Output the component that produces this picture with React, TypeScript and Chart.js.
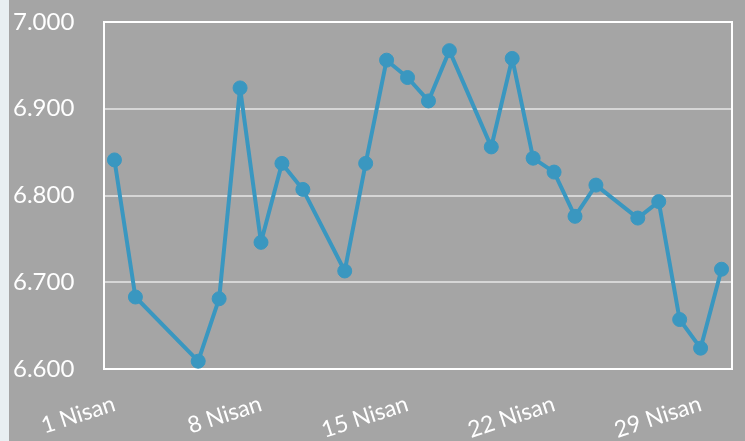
import React, { useEffect, useRef } from "react";
import { Chart, registerables } from "chart.js";

Chart.register(...registerables);

const days: string[] = Array.from({ length: 30 }, (_, i) => `${i + 1} Nisan`);

const values: (number | null)[] = [
  6.841, 6.683, null, null, 6.609, 6.681, 6.924, 6.746, 6.837, 6.807,
  null, 6.713, 6.837, 6.956, 6.936, 6.909, 6.967, null, 6.856, 6.958,
  6.843, 6.827, 6.776, 6.812, null, 6.774, 6.793, 6.657, 6.624, 6.715,
];

const yTicks: number[] = [6.6, 6.7, 6.8, 6.9, 7.0];

const BG = "#a5a5a5";
const LINE = "#3a97c0";

const framePlugin = {
  id: "frame",
  beforeDatasetsDraw(chart: any) {
    const { ctx, chartArea } = chart;
    ctx.save();
    ctx.strokeStyle = "#ffffff";
    ctx.lineWidth = 2;
    ctx.strokeRect(chartArea.left, chartArea.top, chartArea.right - chartArea.left, chartArea.bottom - chartArea.top);
    ctx.restore();
  },
};

export default function App() {
  const ref = useRef<HTMLCanvasElement | null>(null);

  useEffect(() => {
    if (!ref.current) return;
    const chart = new Chart(ref.current, {
      type: "line",
      data: {
        labels: days,
        datasets: [
          {
            data: values,
            borderColor: LINE,
            backgroundColor: LINE,
            borderWidth: 4,
            borderJoinStyle: "round",
            borderCapStyle: "round",
            pointRadius: 7,
            pointHoverRadius: 7,
            pointBorderWidth: 1,
            pointBackgroundColor: LINE,
            pointBorderColor: LINE,
            spanGaps: true,
            tension: 0,
          },
        ],
      },
      options: {
        responsive: false,
        animation: false,
        layout: { padding: { top: 22, right: 13, left: 4, bottom: 0 } },
        plugins: { legend: { display: false }, tooltip: { enabled: false } },
        scales: {
          x: {
            type: "category",
            offset: true,
            grid: { display: false, drawTicks: false },
            border: { display: false },
            ticks: {
              autoSkip: false,
              minRotation: 18,
              maxRotation: 18,
              padding: 21,
              color: "#ffffff",
              font: { family: "Lato", size: 23 },
              callback: (_v: any, i: number) => (i % 7 === 0 ? days[i] : ""),
            },
            afterFit: (s: any) => {
              s.height = 72;
              s.paddingLeft = 0;
              s.paddingRight = 0;
            },
          },
          y: {
            min: 6.6,
            max: 7.0,
            afterBuildTicks: (s: any) => {
              s.ticks = yTicks.map((v) => ({ value: v }));
            },
            grid: { color: "#d6d6d6", lineWidth: 2, drawTicks: false },
            border: { display: false },
            ticks: {
              color: "#ffffff",
              crossAlign: "far",
              padding: 0,
              font: { family: "Lato", size: 24 },
              callback: (v: any) => Number(v).toFixed(3),
            },
            afterFit: (s: any) => {
              s.width = 91;
              s.paddingTop = 0;
              s.paddingBottom = 0;
            },
          },
        },
      },
      plugins: [framePlugin],
    });
    return () => chart.destroy();
  }, []);

  return (
    <div style={{ position: "fixed", inset: 0, background: "#e8eff2" }}>
      <div style={{ position: "absolute", left: 9, top: 0, width: 736, height: 441, background: BG }}>
        <canvas ref={ref} width={736} height={441} style={{ display: "block" }} />
      </div>
    </div>
  );
}
